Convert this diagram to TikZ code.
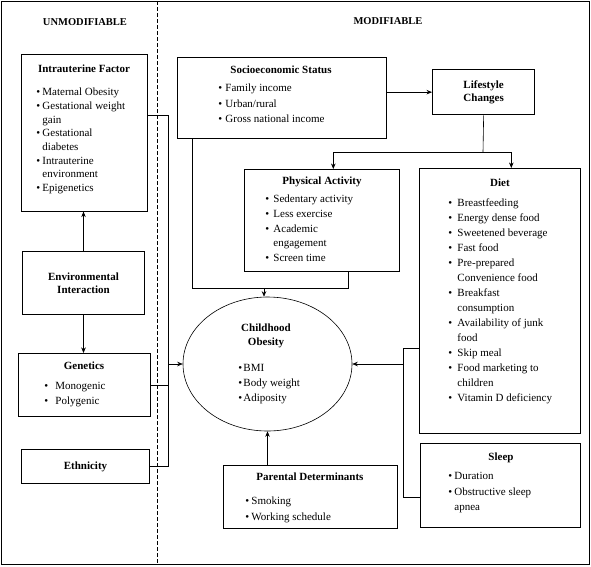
\documentclass[tikz,border=0pt]{standalone}
\usepackage{fontspec}
\setmainfont{Liberation Serif}
\usetikzlibrary{arrows.meta, shapes, positioning}

\newlength{\bgap}
\newcommand{\bitem}{\textbullet\hspace{\bgap}}
\newcommand{\bcont}{\hphantom{\textbullet}\hspace{\bgap}}

\begin{document}
\begin{tikzpicture}[x=1pt, y=-1pt, >={Stealth[length=5.5pt,width=4.5pt]}, line width=0.6pt,
                    box/.style={draw, rectangle, inner sep=0pt, anchor=north west},
                    heavy box/.style={box, line width=1pt, align=center,
                                      font=\fontsize{11}{13.5}\selectfont\bfseries},
                    head/.style={font=\fontsize{10.5}{13}\selectfont\bfseries},
                    title/.style={font=\fontsize{11}{14}\selectfont\bfseries, align=center},
                    bullets/.style 2 args={font=\fontsize{11}{#2}\selectfont, align=left,
                                           anchor=base west, inner sep=0pt,
                                           execute at begin node={\setlength{\bgap}{#1}}}
                    ]
  \useasboundingbox (0,0) rectangle (591,566);
  \draw (1,1) rectangle (589,564);
  \draw[dash pattern=on 4pt off 2pt] (157,1) -- (157,564);

  \node[head] (unmod) at (85,22) {UNMODIFIABLE};
  \node[head] (mod) at (388,21) {MODIFIABLE};

  % unmodifiable side (lists are placed by the baseline of their last line)
  \node[box, minimum width=126pt, minimum height=157pt] (intra) at (21,54) {};
  \node[title] (intraT) at (84,69) {Intrauterine Factor};
  \node[bullets={2.3pt}{13.7pt}] (intraL) at (36,191.5) {\bitem Maternal Obesity\\
    \bitem Gestational weight\\ \bcont gain\\ \bitem Gestational\\ \bcont diabetes\\
    \bitem Intrauterine\\ \bcont environment\\ \bitem Epigenetics};

  \node[heavy box, minimum width=122pt, minimum height=63pt] (env) at (22,251)
    {Environmental\\Interaction};

  \node[box, minimum width=132pt, minimum height=63pt] (gen) at (18,353) {};
  \node[title] (genT) at (84,366) {Genetics};
  \node[bullets={7.3pt}{15pt}] (genL) at (44,404.5) {\bitem Monogenic\\ \bitem Polygenic};

  \node[heavy box, minimum width=128pt, minimum height=34pt] (eth) at (21,449) {Ethnicity};

  % modifiable side
  \node[box, minimum width=209pt, minimum height=81pt] (socio) at (177,57) {};
  \node[title] (socioT) at (281,70) {Socioeconomic Status};
  \node[bullets={3.3pt}{15.5pt}] (socioL) at (218,122.5) {\bitem Family income\\
    \bitem Urban/rural\\ \bitem Gross national income};

  \node[heavy box, line width=1.3pt, minimum width=102pt, minimum height=45pt] (life) at (432,69)
    {Lifestyle\\Changes};

  \node[box, minimum width=155pt, minimum height=102pt] (phys) at (244,169) {};
  \node[title] (physT) at (322,182) {Physical Activity};
  \node[bullets={4.3pt}{14.75pt}] (physL) at (265,261.5) {\bitem Sedentary activity\\
    \bitem Less exercise\\ \bitem Academic\\ \bcont engagement\\ \bitem Screen time};

  \node[box, minimum width=161pt, minimum height=265pt] (diet) at (419,168) {};
  \node[title] (dietT) at (500,183) {Diet};
  \node[bullets={5.3pt}{15pt}] (dietL) at (448,401.5) {\bitem Breastfeeding\\
    \bitem Energy dense food\\ \bitem Sweetened beverage\\ \bitem Fast food\\
    \bitem Pre-prepared\\ \bcont Convenience food\\ \bitem Breakfast\\ \bcont consumption\\
    \bitem Availability of junk\\ \bcont food\\ \bitem Skip meal\\
    \bitem Food marketing to\\ \bcont children\\ \bitem Vitamin D deficiency};

  \node[draw, ellipse, inner sep=0pt, minimum width=169pt, minimum height=134pt] (obes)
    at (267.5,364) {};
  \node[title] (obesT) at (266,336) {Childhood\\Obesity};
  \node[bullets={1.3pt}{15pt}] (obesL) at (238,401.5) {\bitem BMI\\ \bitem Body weight\\
    \bitem Adiposity};

  \node[box, minimum width=160pt, minimum height=84pt] (sleep) at (420,443) {};
  \node[title] (sleepT) at (501,458) {Sleep};
  \node[bullets={2.3pt}{15.5pt}] (sleepL) at (448,510.5) {\bitem Duration\\
    \bitem Obstructive sleep\\ \bcont apnea};

  \node[box, minimum width=174pt, minimum height=63pt] (par) at (223,465) {};
  \node[title] (parT) at (310,477) {Parental Determinants};
  \node[bullets={2.3pt}{16pt}] (parL) at (245,520.5) {\bitem Smoking\\ \bitem Working schedule};

  % connectors
  \coordinate (ubus) at (168,115);
  \coordinate (sjoin) at (264,288);
  \coordinate (lsplit) at (483,152);
  \coordinate (dbusT) at (403,348);
  \coordinate (dbusB) at (403,497);

  \draw[->] (env.north) -- (env.north |- intra.south);
  \draw[->] (env.south) -- (env.south |- gen.north);
  \draw (intra.east |- ubus) -- (ubus) |- (eth.east);
  \draw (gen.east) -- (gen.east -| ubus);
  \draw[->] (obes.west -| ubus) -- (obes.west);

  \draw[->] (socio.east |- life.west) -- (life.west);
  \draw (life.south) -- (lsplit);
  \draw[->] (lsplit) -| ([xshift=11.5pt]phys.north);
  \draw[->] (lsplit) -| ([xshift=11.5pt]diet.north);

  \draw ([xshift=15pt]socio.south west) |- ([xshift=26.5pt]phys.south |- sjoin)
    -- ([xshift=26.5pt]phys.south);
  \draw[->] (sjoin) -- (sjoin |- obes.north);

  \draw (dbusT -| diet.west) -- (dbusT) -- (dbusB) -- (dbusB -| sleep.west);
  \draw[->] (obes.east -| dbusT) -- (obes.east);
  \draw[->] (obes.south |- par.north) -- (obes.south);
\end{tikzpicture}
\end{document}
